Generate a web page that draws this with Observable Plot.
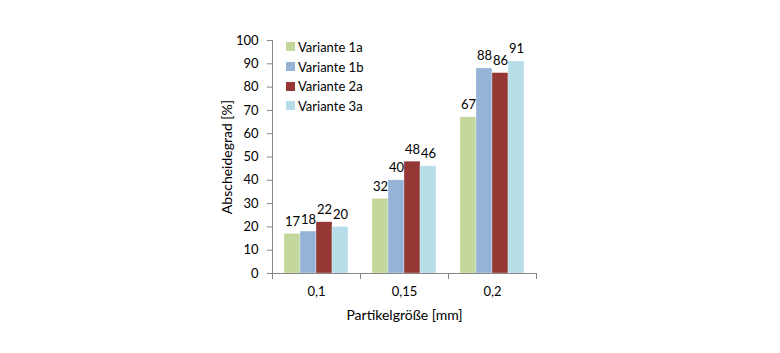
<!DOCTYPE html>
<html><head><meta charset="utf-8">
<script src="https://cdn.jsdelivr.net/npm/d3@7"></script>
<script src="https://cdn.jsdelivr.net/npm/@observablehq/plot@0.6"></script>
<style>
body{margin:0;background:#fff;}
#wrap{position:relative;width:780px;height:353px;}
#legend{position:absolute;left:286px;top:37px;font:13px Lato,sans-serif;color:#000;}
.item{display:flex;align-items:center;height:19.7px;}
.sw{width:9px;height:9px;margin-right:3px;flex:none;}
svg g[aria-label="y-axis label"] text, svg g[aria-label="fx-axis label"] text{font-size:14px;}
</style></head><body><div id="wrap"><div id="legend"></div></div>
<script>
const groups = ["0,1", "0,15", "0,2"];
const variants = ["Variante 1a", "Variante 1b", "Variante 2a", "Variante 3a"];
const colors = ["#c3d69b", "#95b3d7", "#953735", "#b7dee8"];
const v1a = [17, 32, 67];
const v1b = [18, 40, 88];
const v2a = [22, 48, 86];
const v3a = [20, 46, 91];
const yTicks = [0, 10, 20, 30, 40, 50, 60, 70, 80, 90, 100];

const series = [v1a, v1b, v2a, v3a];
const data = [];
groups.forEach((g, i) => variants.forEach((v, j) => data.push({group: g, variant: v, value: series[j][i]})));

const axisColor = "#868686";
const plot = Plot.plot({
  width: 780, height: 353,
  marginLeft: 271, marginRight: 244, marginTop: 40, marginBottom: 80,
  style: {fontFamily: "Lato, sans-serif", fontSize: "13px", color: "#000", background: "transparent"},
  fx: {domain: groups, padding: 0, label: null, axis: null},
  x: {domain: variants, paddingInner: 0, paddingOuter: 0.75, axis: null},
  y: {domain: [0, 100], axis: null},
  color: {domain: variants, range: colors},
  marks: [
    Plot.barY(data, {fx: "group", x: "variant", y: "value", fill: "variant", stroke: "#fff", strokeOpacity: 0.5, strokeWidth: 0.6}),
    Plot.text(data, {fx: "group", x: "variant", y: "value", text: d => String(d.value), lineAnchor: "bottom", dy: -8, fill: "#000"}),
    Plot.ruleY([0], {stroke: axisColor}),
    Plot.frame({anchor: "left", fx: "0,1", stroke: axisColor}),
    Plot.frame({anchor: "left", insetTop: 233, insetBottom: -5, stroke: axisColor}),
    Plot.frame({anchor: "right", fx: "0,2", insetTop: 233, insetBottom: -5, stroke: axisColor}),
    Plot.axisY({ticks: yTicks, tickSize: 5, tickPadding: 9, stroke: axisColor, fill: "#000",
      label: "Abscheidegrad [%]", labelArrow: "none", labelAnchor: "center", labelOffset: 50}),
    Plot.axisFx({anchor: "bottom", tickSize: 0, tickPadding: 13, fill: "#000",
      label: "Partikelgröße [mm]", labelArrow: "none", labelAnchor: "center", labelOffset: 46})
  ]
});
const wrap = document.getElementById("wrap");
wrap.insertBefore(plot, wrap.firstChild);

const legend = document.getElementById("legend");
variants.forEach((v, i) => {
  const item = document.createElement("div");
  item.className = "item";
  const sw = document.createElement("span");
  sw.className = "sw";
  sw.style.background = colors[i];
  const t = document.createElement("span");
  t.textContent = v;
  item.appendChild(sw);
  item.appendChild(t);
  legend.appendChild(item);
});
</script>
</body></html>
